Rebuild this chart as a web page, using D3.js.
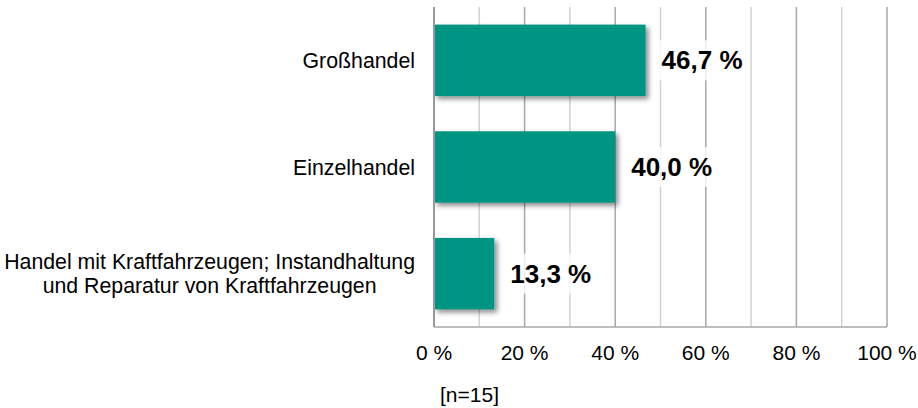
<!DOCTYPE html>
<html>
<head>
<meta charset="utf-8">
<script src="https://cdn.jsdelivr.net/npm/d3@7"></script>
<style>
  body { margin: 0; background: #fff; }
  svg text { font-family: Arial, "Liberation Sans", sans-serif; fill: #000; }
</style>
</head>
<body>
<svg id="chart" width="918" height="408"></svg>
<script>
// data
const categories = [
    ['Großhandel'],
    ['Einzelhandel'],
    ['Handel mit Kraftfahrzeugen; Instandhaltung', 'und Reparatur von Kraftfahrzeugen']
];
const shares = [46.7, 40.0, 13.3];
const tickValues = [0, 20, 40, 60, 80, 100];
const gridValues = d3.range(0, 101, 10);
const sampleNote = '[n=15]';

const svg = d3.select('#chart');

let x = d3.scaleLinear()
            .domain([0, 100])
            .range([434, 887]);

let y = d3.scaleBand()
            .domain(d3.range(categories.length))
            .range([7, 327])
            .paddingInner(0.33)
            .paddingOuter(0.165);

// drop shadow for the bars
let shadow = svg.append('defs')
            .append('filter')
            .attr('id', 'shadow')
            .attr('x', '-10%').attr('y', '-10%')
            .attr('width', '130%').attr('height', '140%');
shadow.append('feDropShadow')
            .attr('dx', 3).attr('dy', 3)
            .attr('stdDeviation', 2.5)
            .attr('flood-color', '#000')
            .attr('flood-opacity', 0.45);

// vertical grid
svg.append('g')
    .selectAll('line')
    .data(gridValues.slice(1))
    .join('line')
    .attr('x1', d => x(d)).attr('x2', d => x(d))
    .attr('y1', 7).attr('y2', 327)
    .attr('stroke', d => d % 20 === 0 ? '#a8a8a8' : '#d2d2d2')
    .attr('stroke-width', 1.5);

// bottom line
svg.append('line')
    .attr('x1', x(0)).attr('x2', x(100))
    .attr('y1', 327).attr('y2', 327)
    .attr('stroke', '#a8a8a8')
    .attr('stroke-width', 1.5);

// bars
svg.append('g')
    .selectAll('rect')
    .data(shares)
    .join('rect')
    .attr('x', x(0))
    .attr('y', (d, i) => y(i))
    .attr('width', d => x(d) - x(0))
    .attr('height', y.bandwidth())
    .attr('fill', '#069583')
    .attr('filter', 'url(#shadow)');

// left axis line
svg.append('line')
    .attr('x1', x(0)).attr('x2', x(0))
    .attr('y1', 7).attr('y2', 327)
    .attr('stroke', '#999')
    .attr('stroke-width', 2);

// value labels with white backing
let fmt = d => d.toFixed(1).replace('.', ',') + ' %';
let labels = svg.append('g')
    .selectAll('g')
    .data(shares)
    .join('g')
    .attr('transform', (d, i) => `translate(${x(d) + 16},${y(i) + y.bandwidth() / 2})`);

labels.append('rect')
    .attr('x', -8).attr('y', -20)
    .attr('width', 96).attr('height', 40)
    .attr('fill', '#fff')
    .attr('opacity', 0.8);

labels.append('text')
    .text(fmt)
    .attr('dy', '0.35em')
    .style('font-size', '26px')
    .style('font-weight', 'bold');

// category labels, multi-line ones centred as a block ending at the axis gap
svg.append('g')
    .selectAll('text')
    .data(categories)
    .join('text')
    .attr('y', (d, i) => y(i) + y.bandwidth() / 2)
    .style('font-size', '21.3px')
    .each(function (lines) {
        let t = d3.select(this);
        let off = -(lines.length - 1) / 2 * 24;
        let spans = lines.map((line, k) => t.append('tspan')
                .attr('dy', k === 0 ? (off + 7.5) : 24)
                .text(line));
        let maxW = d3.max(spans, s => s.node().getComputedTextLength());
        t.attr('text-anchor', 'middle');
        spans.forEach(s => s.attr('x', 415 - maxW / 2));
    });

// x tick labels
svg.append('g')
    .selectAll('text')
    .data(tickValues)
    .join('text')
    .attr('x', d => x(d))
    .attr('y', 360)
    .attr('text-anchor', 'middle')
    .style('font-size', '21px')
    .text(d => d + ' %');

svg.append('text')
    .attr('x', 440)
    .attr('y', 402)
    .style('font-size', '21px')
    .text(sampleNote);
</script>
</body>
</html>
